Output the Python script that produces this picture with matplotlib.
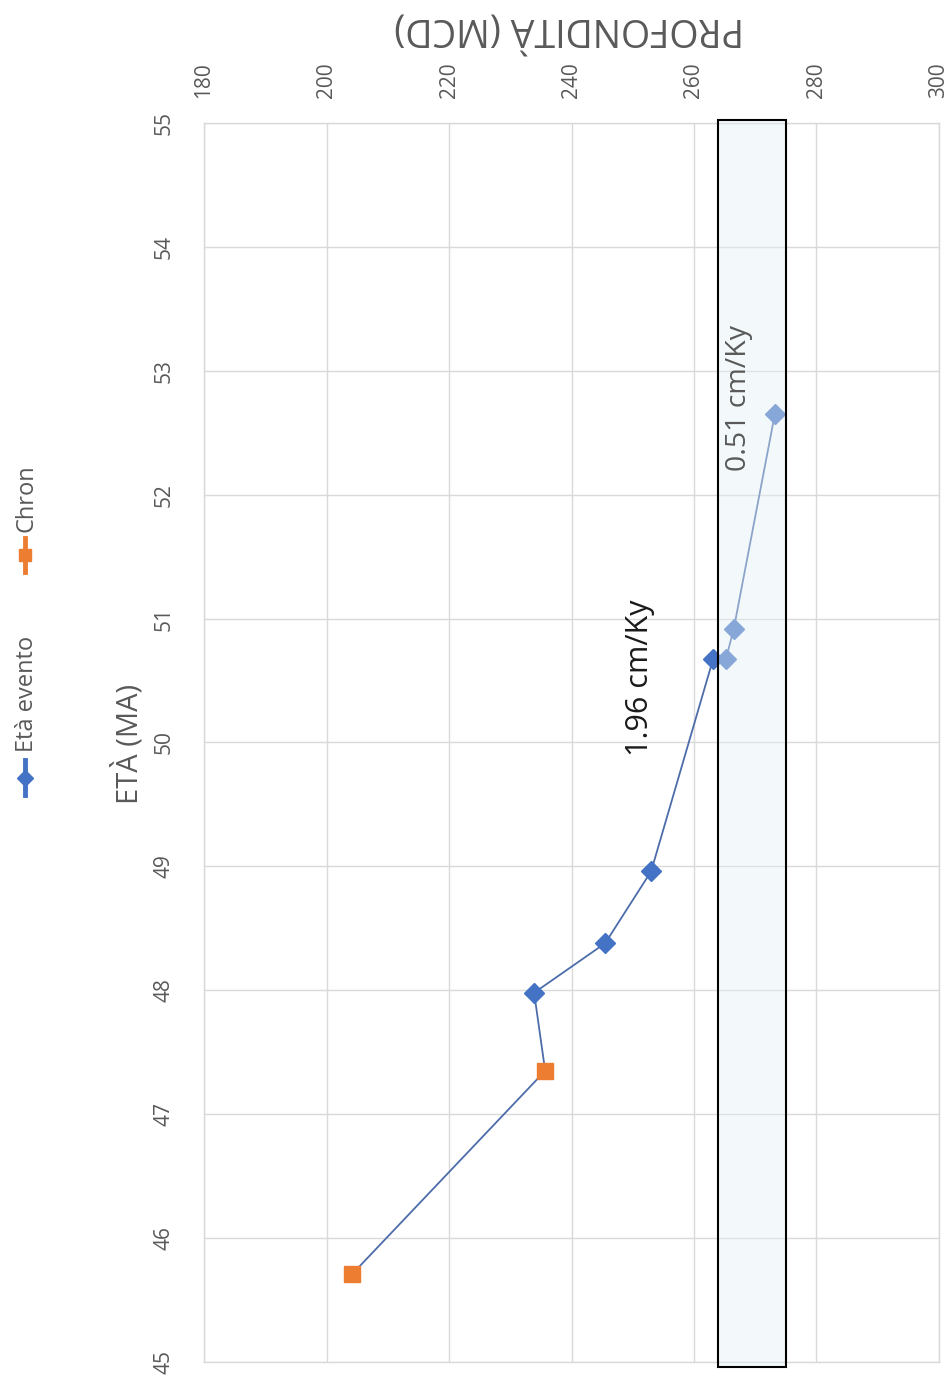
import matplotlib
matplotlib.use("Agg")
import matplotlib.pyplot as plt
from matplotlib.patches import Rectangle
from matplotlib.lines import Line2D

plt.rcParams['font.family'] = ['Open Sans', 'DejaVu Sans']

# Age-depth data
eta_evento_depth = [233.9, 245.5, 253.0, 263.1, 265.2, 266.5, 273.2]
eta_evento_age = [47.98, 48.38, 48.96, 50.67, 50.67, 50.92, 52.65]
chron_depth = [204.2, 235.7]
chron_age = [45.71, 47.35]

# Full age-depth curve, ordered by age
curve_depth = chron_depth + eta_evento_depth
curve_age = chron_age + eta_evento_age

depth_ticks = [180, 200, 220, 240, 260, 280, 300]
age_ticks = [45, 46, 47, 48, 49, 50, 51, 52, 53, 54, 55]

rate_labels = ["1.96 cm/Ky", "0.51 cm/Ky"]
rate_depth = [251.2, 267.4]
rate_age = [50.52, 52.78]

highlight_depth = (263.9, 275.0)

blue = "#4472C4"
orange = "#ED7D31"
grid_c = "#D9D9D9"
text_c = "#595959"

fig = plt.figure(figsize=(9.48, 13.83), dpi=100)
ax = fig.add_axes([0.2152, 0.01518, 0.7753, 0.8959])

ax.set_xlim(180, 300)
ax.set_ylim(45, 55)
ax.set_xticks(depth_ticks)
ax.set_yticks(age_ticks)
ax.xaxis.tick_top()
ax.grid(True, color=grid_c, lw=1.0, zorder=0)
for s in ax.spines.values():
    s.set_color(grid_c)
    s.set_linewidth(1.0)
ax.tick_params(axis='both', length=0, labelcolor=text_c, labelsize=15)
ax.tick_params(axis='x', pad=18, labelrotation=90)
ax.tick_params(axis='y', pad=21, labelrotation=90)
for lab in ax.get_yticklabels():
    lab.set_verticalalignment('center')

ax.plot(curve_depth, curve_age, color="#4d6caa", lw=1.3, zorder=2)
ax.plot(eta_evento_depth, eta_evento_age, ls='none', marker='D', ms=10,
        color=blue, mec=blue, zorder=3)
ax.plot(chron_depth, chron_age, ls='none', marker='s', ms=11,
        color=orange, mec=orange, zorder=3)

# Highlighted interval
rect = Rectangle((highlight_depth[0], 44.96), highlight_depth[1] - highlight_depth[0],
                 55.02 - 44.96, facecolor="#E4F2F5", alpha=0.42, edgecolor='none',
                 zorder=4, clip_on=False)
ax.add_patch(rect)
edge = Rectangle((highlight_depth[0], 44.96), highlight_depth[1] - highlight_depth[0],
                 55.02 - 44.96, facecolor='none', edgecolor='black', lw=1.5,
                 zorder=5, clip_on=False)
ax.add_patch(edge)

ax.text(rate_depth[0], rate_age[0], rate_labels[0], rotation=90, ha='center',
        va='center', fontsize=22, color="#1a1a1a", zorder=6)
ax.text(rate_depth[1], rate_age[1], rate_labels[1], rotation=90, ha='center',
        va='center', fontsize=20.5, color=text_c, zorder=6)

# Axis titles
fig.text(128 / 948, 1 - 744 / 1383, "ETÀ (MA)", rotation=90, ha='center',
         va='center', fontsize=21, color=text_c)
fig.text(569 / 948, 1 - 30 / 1383, "PROFONDITÀ (MCD)", rotation=180,
         ha='center', va='center', fontsize=27, color=text_c)

# Legend
def legend_entry(y0, y1, color, marker, label, ty):
    x = 25 / 948
    fig.add_artist(Line2D([x, x], [1 - y1 / 1383, 1 - y0 / 1383],
                          color=color, lw=3.5, transform=fig.transFigure))
    fig.add_artist(Line2D([x], [1 - (y0 + y1) / 2 / 1383], marker=marker,
                          ms=8, color=color, transform=fig.transFigure))
    fig.text(27 / 948, 1 - ty / 1383, label, rotation=90, ha='center',
             va='bottom', fontsize=17, color=text_c)

legend_entry(760, 795, blue, 'D', "Età evento", 752)
legend_entry(538, 572, orange, 's', "Chron", 532)

fig.savefig("out.png", dpi=100, facecolor='white')
